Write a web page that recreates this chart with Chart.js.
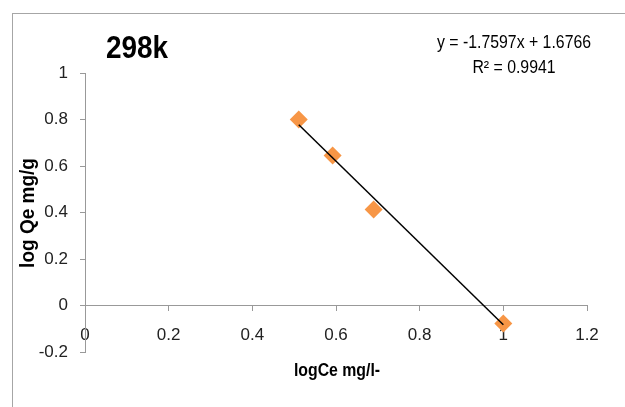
<!DOCTYPE html>
<html>
<head>
<meta charset="utf-8">
<script src="https://cdn.jsdelivr.net/npm/chart.js@4.4.1/dist/chart.umd.min.js"></script>
<style>
  body { margin: 0; background: #fff; }
  #wrap { width: 625px; height: 407px; }
</style>
</head>
<body>
<div id="wrap"><canvas id="myChart" width="625" height="407"></canvas></div>
<script>
// values
var logCe = [0.511, 0.592, 0.690, 1.0];
var logQe = [0.80, 0.645, 0.413, -0.077];

// excel trendline shown on the chart
var slope = -1.7597;
var intercept = 1.6766;
var eqLine1 = 'y = -1.7597x + 1.6766';
var eqLine2 = 'R\u00b2 = 0.9941';
var chartTitle = '298k';
var xTitle = 'logCe mg/l-';
var yTitle = 'log Qe mg/g';

var xTicks = [0, 0.2, 0.4, 0.6, 0.8, 1, 1.2];
var yTicks = [-0.2, 0, 0.2, 0.4, 0.6, 0.8, 1];

var FONT = "'Liberation Sans', Arial, sans-serif";

var points = logCe.map(function (x, i) { return {x: x, y: logQe[i]}; });
var xMin = Math.min.apply(null, logCe);
var xMax = Math.max.apply(null, logCe);
var trend = [
    {x: xMin, y: slope * xMin + intercept},
    {x: xMax, y: slope * xMax + intercept}
];

function fmt(v) {
    return String(Number(v.toFixed(1)));
}

// draws text narrower, the reference uses a condensed face
function narrowText(ctx, txt, x, y, sx) {
    ctx.save();
    ctx.translate(x, y);
    ctx.scale(sx, 1);
    ctx.fillText(txt, 0, 0);
    ctx.restore();
}

// border + free texts (title, equation, axis titles)
var textPlugin = {
    id: 'texts',
    beforeDraw: function (chart) {
        var ctx = chart.ctx;
        ctx.save();
        ctx.fillStyle = '#fff';
        ctx.fillRect(0, 0, chart.width, chart.height);
        ctx.strokeStyle = '#a6a6a6';
        ctx.lineWidth = 1;
        ctx.strokeRect(12.5, 13.5, 800, 600);
        ctx.restore();
    },
    afterDraw: function (chart) {
        var ctx = chart.ctx;
        ctx.save();
        ctx.fillStyle = '#000';
        ctx.textBaseline = 'alphabetic';

        ctx.font = 'bold 31px ' + FONT;
        ctx.textAlign = 'left';
        narrowText(ctx, chartTitle, 106, 58, 0.9);

        ctx.font = '18px ' + FONT;
        ctx.textAlign = 'center';
        narrowText(ctx, eqLine1, 514, 48, 0.88);
        narrowText(ctx, eqLine2, 514, 73, 0.88);

        ctx.font = 'bold 18px ' + FONT;
        narrowText(ctx, xTitle, 337, 376, 0.88);

        ctx.translate(34, 213);
        ctx.rotate(-Math.PI / 2);
        ctx.font = 'bold 20px ' + FONT;
        narrowText(ctx, yTitle, 0, 0, 0.95);
        ctx.restore();
    }
};

var ctx = document.getElementById('myChart').getContext('2d');
var chart = new Chart(ctx, {
    type: 'scatter',
    data: {
        datasets: [{
            label: 'data',
            data: points,
            pointStyle: 'rectRot',
            pointRadius: 9,
            pointHoverRadius: 9,
            backgroundColor: '#f79646',
            borderColor: '#f79646',
            borderWidth: 0,
            order: 2
        }, {
            label: 'trend',
            data: trend,
            showLine: true,
            borderColor: '#000',
            borderWidth: 1.5,
            pointRadius: 0,
            order: 1
        }]
    },
    options: {
        responsive: false,
        animation: false,
        layout: {
            padding: {left: 0, right: 38, top: 73, bottom: 55}
        },
        plugins: {
            legend: {display: false},
            tooltip: {enabled: false}
        },
        scales: {
            x: {
                type: 'linear',
                position: {y: 0},
                min: 0,
                max: 1.2,
                afterBuildTicks: function (scale) {
                    scale.ticks = xTicks.map(function (v) { return {value: v}; });
                },
                grid: {drawOnChartArea: false, drawTicks: true, tickLength: 5, tickColor: '#999'},
                border: {display: true, color: '#999', width: 1},
                ticks: {
                    autoSkip: false,
                    maxRotation: 0,
                    padding: 15,
                    color: '#222',
                    font: {family: FONT, size: 17},
                    callback: function (v) { return fmt(v); }
                }
            },
            y: {
                type: 'linear',
                position: 'left',
                min: -0.2,
                max: 1,
                afterBuildTicks: function (scale) {
                    scale.ticks = yTicks.map(function (v) { return {value: v}; });
                },
                afterFit: function (scale) { scale.width = 85; },
                grid: {drawOnChartArea: false, drawTicks: true, tickLength: 5, tickColor: '#999'},
                border: {display: true, color: '#999', width: 1},
                ticks: {
                    autoSkip: false,
                    padding: 12,
                    color: '#222',
                    font: {family: FONT, size: 17},
                    callback: function (v) { return fmt(v); }
                }
            }
        }
    },
    plugins: [textPlugin]
});
</script>
</body>
</html>
